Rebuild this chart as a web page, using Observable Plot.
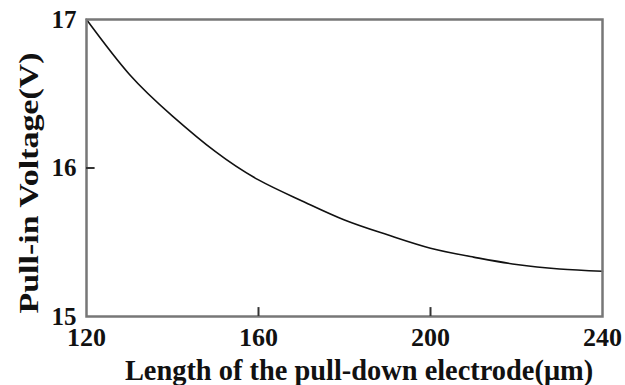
<!DOCTYPE html>
<html>
<head>
<meta charset="utf-8">
<script src="https://cdn.jsdelivr.net/npm/d3@7"></script>
<script src="https://cdn.jsdelivr.net/npm/@observablehq/plot@0.6"></script>
<style>
  html, body { margin: 0; padding: 0; background: #fff; }
</style>
</head>
<body>
<div id="chart"></div>
<script>
const lengths = [120, 130, 140, 150, 160, 170, 180, 190, 200, 210, 220, 230, 240];
const voltages = [17.0, 16.63, 16.35, 16.11, 15.92, 15.78, 15.65, 15.55, 15.46, 15.40, 15.35, 15.32, 15.305];
const xTicks = [120, 160, 200, 240];
const yTicks = ["15", "16", "17"];
const xInnerTicks = [160, 200];
const yInnerTicks = [16];
const xLabel = "Length of the pull-down electrode(μm)";
const yLabel = "Pull-in Voltage(V)";

const data = lengths.map((x, i) => ({x, y: voltages[i]}));
const font = "Liberation Serif";

const chart = Plot.plot({
  width: 625,
  height: 385,
  marginLeft: 86,
  marginRight: 23,
  marginTop: 19,
  marginBottom: 69,
  x: {domain: [120, 240]},
  y: {domain: [15, 17], axis: null},
  marks: [
    Plot.axisX({ticks: xTicks, tickFormat: d3.format("d"), tickSize: 0, tickPadding: 11, label: null, fontSize: 26, fontWeight: "bold", fontFamily: font, fill: "#111"}),
    Plot.text(yTicks, {y: d => +d, text: d => d, x: 120, dx: -10, textAnchor: "end", lineAnchor: "middle", fontSize: 25, fontWeight: "bold", fontFamily: font, fill: "#111"}),
    Plot.line(data, {x: "x", y: "y", curve: "natural", stroke: "#111", strokeWidth: 1.6}),
    Plot.frame({stroke: "#777", strokeWidth: 2.5}),
    Plot.ruleX(xInnerTicks, {x: d => d, y1: 15, y2: 15.06, stroke: "#333", strokeWidth: 2}),
    Plot.ruleY(yInnerTicks, {y: d => d, x1: 120, x2: 122, stroke: "#333", strokeWidth: 2}),
    Plot.text([xLabel], {frameAnchor: "bottom", dx: 14.5, dy: 63, lineAnchor: "bottom", fontSize: 28.4, fontWeight: "bold", fontFamily: font, fill: "#111"}),
    Plot.text([yLabel], {frameAnchor: "left", rotate: -90, dx: -57.5, dy: 15, textAnchor: "middle", lineAnchor: "middle", fontSize: 28, fontWeight: "bold", fontFamily: font, fill: "#111"})
  ]
});
d3.select(chart).selectAll("text")
  .filter(function() { return this.textContent === yLabel; })
  .attr("textLength", 261)
  .attr("lengthAdjust", "spacingAndGlyphs");
document.getElementById("chart").appendChild(chart);
</script>
</body>
</html>
